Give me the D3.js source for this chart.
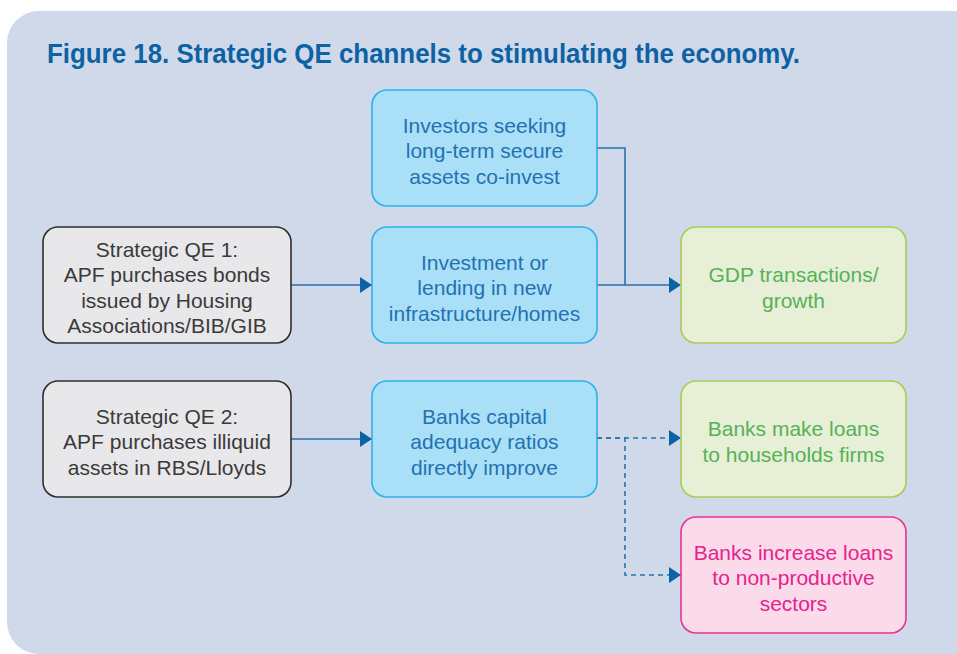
<!DOCTYPE html>
<html>
<head>
<meta charset="utf-8">
<script src="https://cdn.jsdelivr.net/npm/d3@7"></script>
<style>
  body { margin: 0; background: #fff; }
  svg { display: block; }
  .node text { font-family: 'Liberation Sans', Arial, sans-serif; font-size: 21px; }
</style>
</head>
<body>
<svg id="chart" width="957" height="654"></svg>
<script>
const title = 'Figure 18. Strategic QE channels to stimulating the economy.'

// node ids, labels, grid cells and colour kinds
const nodeIds = ['qe1', 'investors', 'investment', 'gdp', 'qe2', 'capital', 'loans', 'nonprod']
const nodeLabels = [
  ['Strategic QE 1:', 'APF purchases bonds', 'issued by Housing', 'Associations/BIB/GIB'],
  ['Investors seeking', 'long-term secure', 'assets co-invest'],
  ['Investment or', 'lending in new', 'infrastructure/homes'],
  ['GDP transactions/', 'growth'],
  ['Strategic QE 2:', 'APF purchases illiquid', 'assets in RBS/Lloyds'],
  ['Banks capital', 'adequacy ratios', 'directly improve'],
  ['Banks make loans', 'to households firms'],
  ['Banks increase loans', 'to non-productive', 'sectors'],
]
const nodeCols = [0, 1, 1, 2, 0, 1, 2, 2]
const nodeRows = [1, 0, 1, 1, 2, 2, 2, 3]
const nodeKinds = ['source', 'channel', 'channel', 'good', 'source', 'channel', 'good', 'bad']

// links: source, target, dashed?, arrowhead?
const linkFrom = ['qe1', 'investors', 'investment', 'qe2', 'capital', 'capital']
const linkTo = ['investment', 'gdp', 'gdp', 'capital', 'loans', 'nonprod']
const linkDashed = [false, false, false, false, true, true]
const linkArrow = [true, false, true, true, true, true]

const colX = d3.scaleOrdinal().domain([0, 1, 2]).range([43, 372, 681])
const colW = d3.scaleOrdinal().domain([0, 1, 2]).range([248, 225, 225])
const rowY = d3.scaleOrdinal().domain([0, 1, 2, 3]).range([90, 227, 381, 517])
const boxH = 116

const palette = {
  source: { fill: '#e8e8ea', stroke: '#2e2e2e', text: '#3a3a3a' },
  channel: { fill: '#aadff8', stroke: '#2ab2ea', text: '#2372b0' },
  good: { fill: '#e7efd6', stroke: '#a6cd55', text: '#55b257' },
  bad: { fill: '#fbdbe9', stroke: '#e6358c', text: '#e5228e' },
}

const nodes = nodeIds.map((id, i) => {
  const x = colX(nodeCols[i]), y = rowY(nodeRows[i]), w = colW(nodeCols[i])
  return { id, label: nodeLabels[i], kind: nodeKinds[i], x, y, w, h: boxH, cx: x + w / 2, cy: y + boxH / 2 }
})
const byId = Object.fromEntries(nodes.map((d) => [d.id, d]))

const svg = d3.select('#chart')

svg.append('rect')
  .attr('x', 7).attr('y', 11).attr('width', 990).attr('height', 643)
  .attr('rx', 32)
  .attr('fill', '#cfd9ea')

svg.append('text')
  .attr('x', 47).attr('y', 63)
  .attr('font-family', "'Liberation Sans', Arial, sans-serif")
  .attr('font-weight', 'bold')
  .attr('font-size', 27)
  .attr('textLength', 753)
  .attr('lengthAdjust', 'spacingAndGlyphs')
  .attr('fill', '#0d62a3')
  .text(title)

svg.append('defs').append('marker')
  .attr('id', 'arrow')
  .attr('markerUnits', 'userSpaceOnUse')
  .attr('markerWidth', 12).attr('markerHeight', 16)
  .attr('refX', 12).attr('refY', 8)
  .attr('orient', 'auto')
  .append('path')
  .attr('d', 'M0,0 L12,8 L0,16 Z')
  .attr('fill', '#0b62a4')

const links = linkFrom.map((f, i) => ({
  s: byId[f], t: byId[linkTo[i]], dashed: linkDashed[i], arrow: linkArrow[i],
}))

const bend = 28
const linkPath = (d) => {
  const p = d3.path()
  const x0 = d.s.x + d.s.w
  const y0 = d.s.cy - (d.dashed ? 1 : 0)
  const x1 = d.t.x
  const y1 = d.t.cy
  p.moveTo(x0, y0)
  if (Math.abs(y1 - y0) > 3) {
    p.lineTo(x0 + bend, y0)
    p.lineTo(x0 + bend, y1)
    if (d.arrow) p.lineTo(x1, y1)
  } else {
    p.lineTo(x1, y0)
  }
  return p.toString()
}

svg.append('g')
  .selectAll('path')
  .data(links)
  .join('path')
  .attr('d', linkPath)
  .attr('fill', 'none')
  .attr('stroke', '#2a71ad')
  .attr('stroke-width', 1.6)
  .attr('stroke-dasharray', (d) => (d.dashed ? '5,4' : null))
  .attr('marker-end', (d) => (d.arrow ? 'url(#arrow)' : null))

const node = svg.append('g')
  .selectAll('g')
  .data(nodes)
  .join('g')
  .attr('class', 'node')

node.append('rect')
  .attr('x', (d) => d.x).attr('y', (d) => d.y)
  .attr('width', (d) => d.w).attr('height', (d) => d.h)
  .attr('rx', 15)
  .attr('fill', (d) => palette[d.kind].fill)
  .attr('stroke', (d) => palette[d.kind].stroke)
  .attr('stroke-width', 1.6)

const lineGap = 25.5
node.append('text')
  .attr('text-anchor', 'middle')
  .attr('fill', (d) => palette[d.kind].text)
  .selectAll('tspan')
  .data((d) => d.label.map((t, i) => ({ t, i, n: d.label.length, cx: d.cx, cy: d.cy })))
  .join('tspan')
  .attr('x', (d) => d.cx)
  .attr('y', (d) => d.cy + (d.i - (d.n - 1) / 2) * lineGap + 10)
  .text((d) => d.t)
</script>
</body>
</html>
